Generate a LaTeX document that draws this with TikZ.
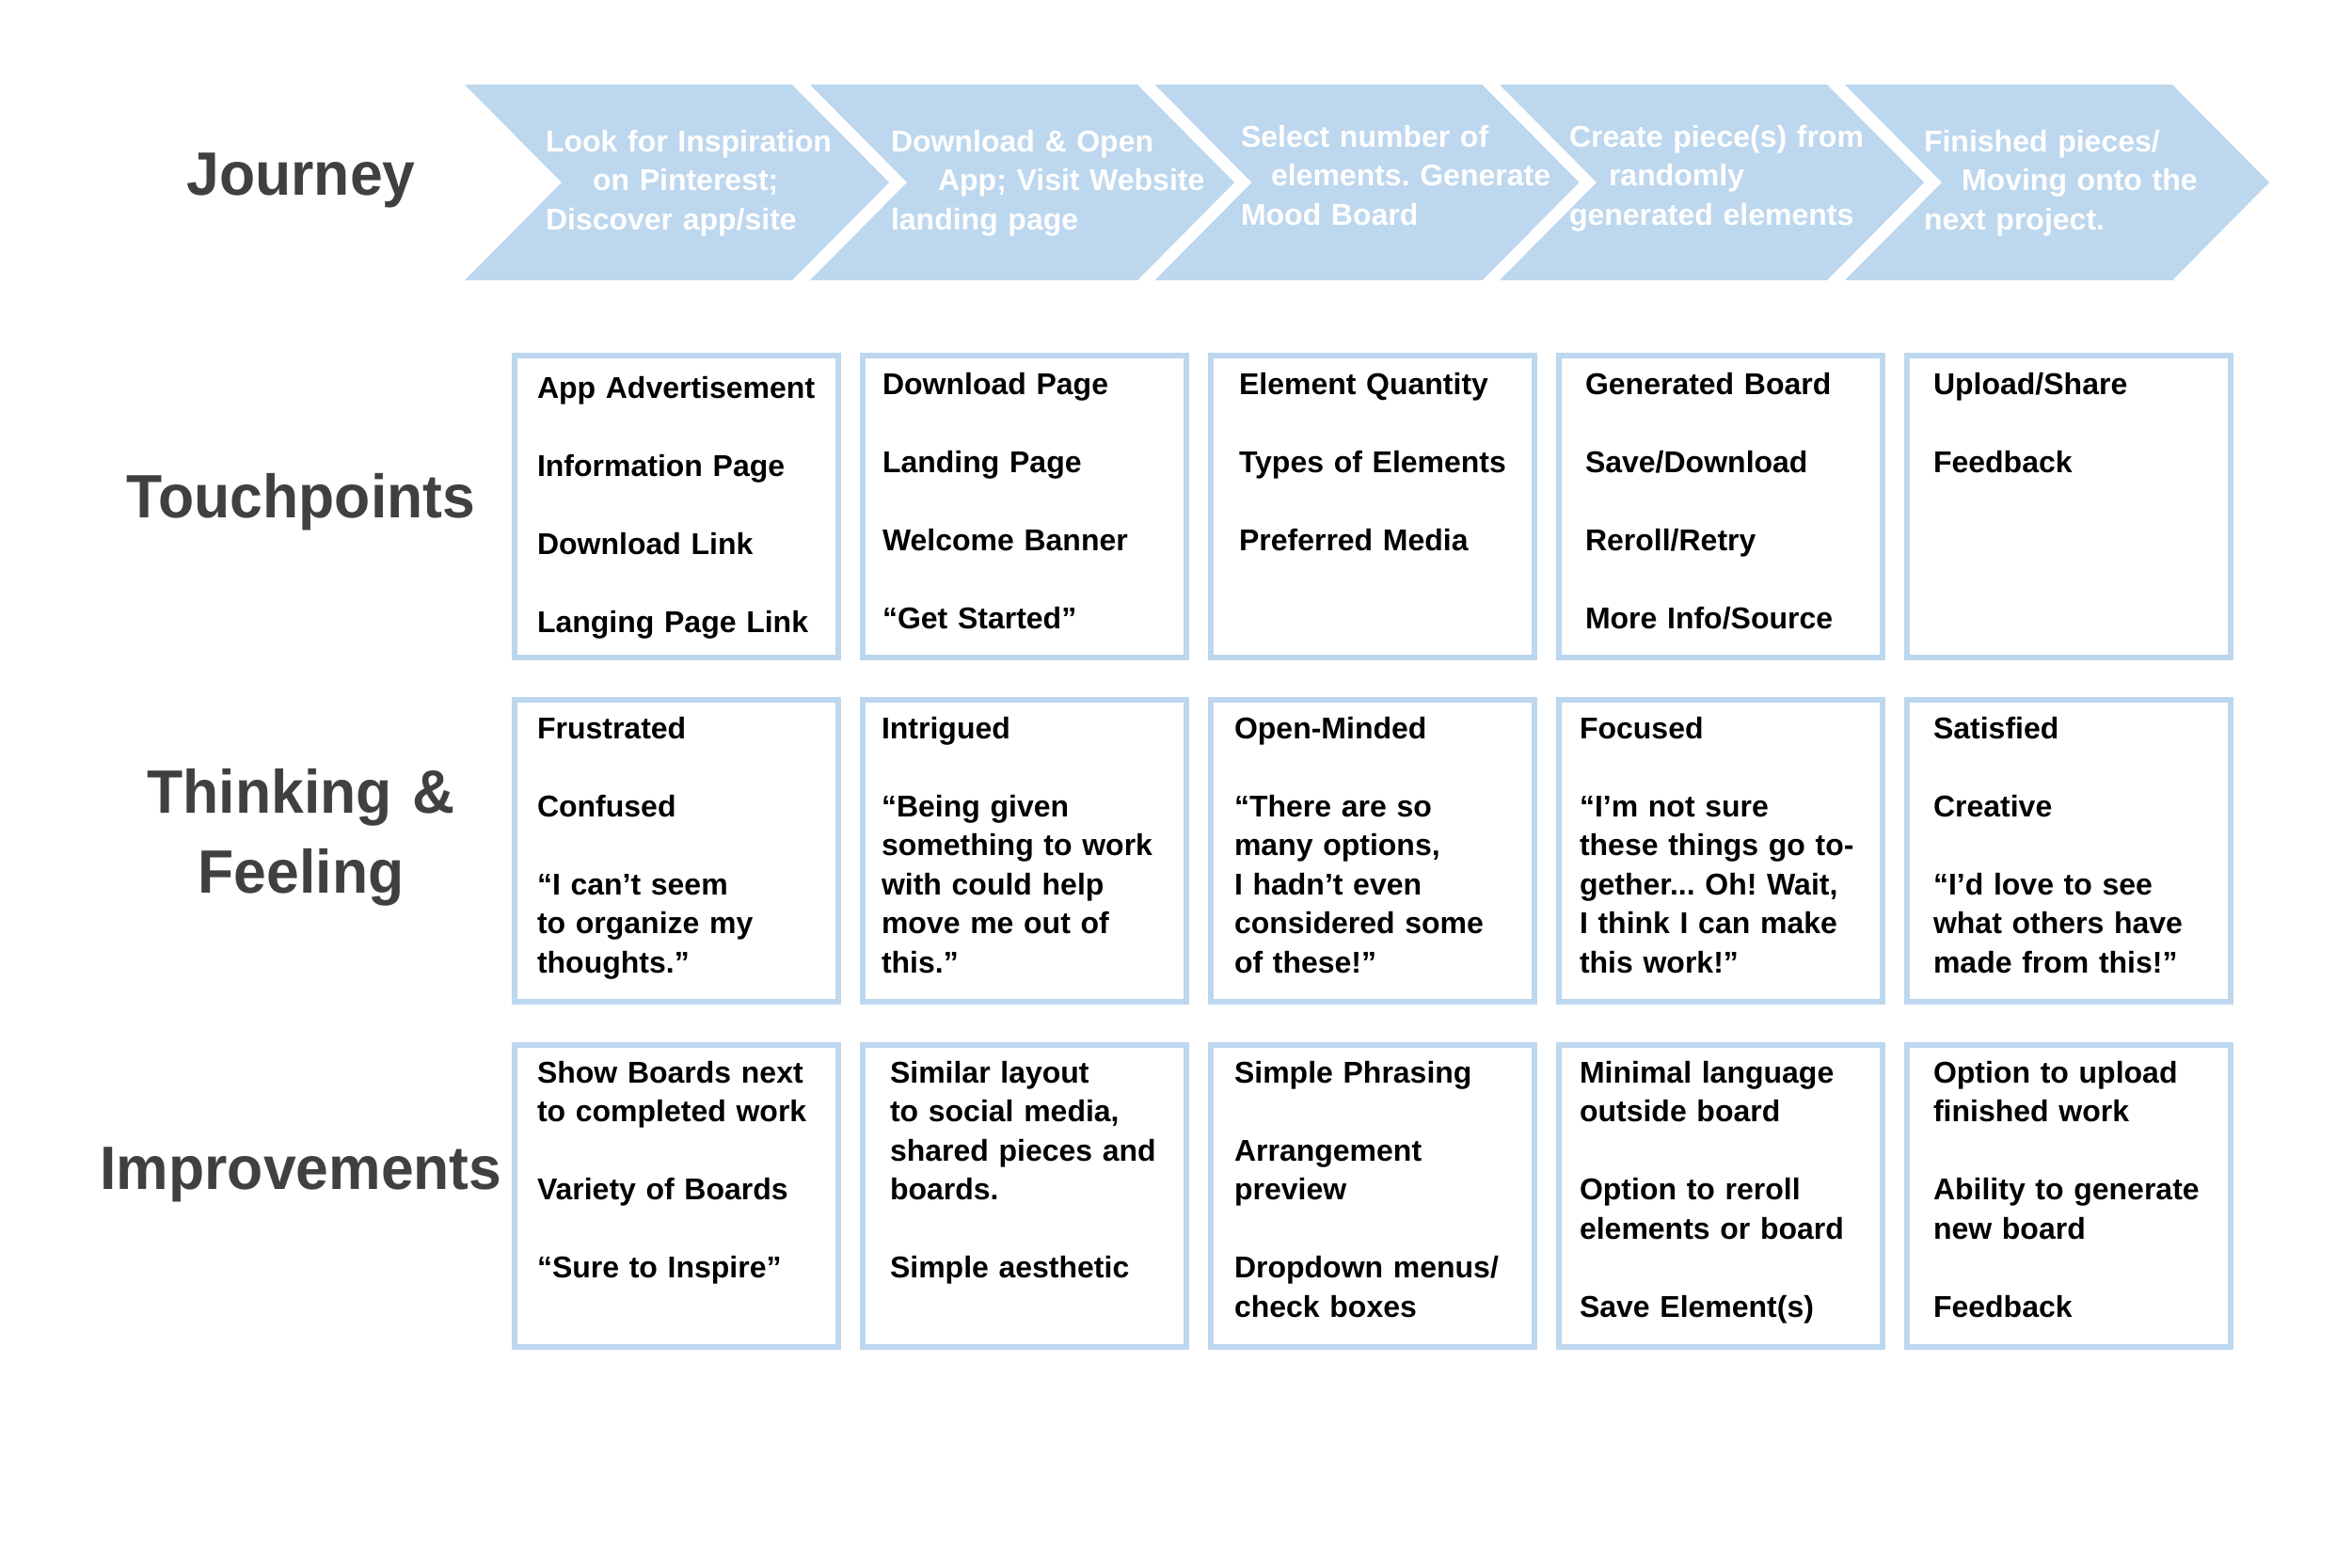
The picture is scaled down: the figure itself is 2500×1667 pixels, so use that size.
\documentclass[tikz,border=0pt]{standalone}
\usepackage{fontspec}
\setmainfont{Liberation Sans}
\newfontfamily\labfont{Liberation Sans}[FakeStretch=0.96]
\definecolor{chevblue}{HTML}{BDD7EE}
\definecolor{labgray}{HTML}{404040}
\newcommand\bst{\rule{0pt}{9pt}}
\newcommand\lst{\rule{0pt}{17pt}}
\newcommand\gap{\\ \mbox{}\\}
\frenchspacing
\begin{document}
\begin{tikzpicture}[x=0.01cm,y=-0.01cm,
  chev/.style={fill=chevblue, draw=none},
  boxframe/.style={draw=chevblue, line width=1.71pt, minimum width=3.44cm, minimum height=3.21cm, inner sep=0pt, outer sep=0pt},
  boxtext/.style={anchor=north west, inner sep=0pt, outer sep=0pt, text width=3.3cm, align=left, font=\frenchspacing\bfseries\fontsize{9.1pt}{11.81pt}\selectfont},
  chevtext/.style={boxtext, text=white, text width=3.8cm},
  lab/.style={anchor=north, inner sep=0pt, outer sep=0pt, text width=5cm, align=center, text=labgray, font=\labfont\bfseries\fontsize{18.5pt}{24.2pt}\selectfont}]
\useasboundingbox (0,0) rectangle (2500,1667);
\fill[white] (0,0) rectangle (2500,1667);

% chevrons
\foreach \x in {494,861,1227.5,1594,1961}{
  \fill[chev] (\x,90) -- ++(348,0) -- ++(103,104) -- ++(-103,104) -- ++(-348,0) -- ++(103,-104) -- cycle;
}
\node[chevtext] (c1) at (580,129.4) {\bst Look for Inspiration\\\hspace*{0.5cm}on Pinterest;\\Discover app/site};
\node[chevtext] (c2) at (947,129.4) {\bst Download \& Open\\\hspace*{0.5cm}App; Visit Website\\landing page};
\node[chevtext] (c3) at (1319,124.4) {\bst Select number of\\\hspace*{0.32cm}elements. Generate\\Mood Board};
\node[chevtext] (c4) at (1668,124.4) {\bst Create piece(s) from\\\hspace*{0.42cm}randomly\\generated elements};
\node[chevtext] (c5) at (2045,129.4) {\bst Finished pieces/\\\hspace*{0.4cm}Moving onto the\\next project.};

% row labels
\node[lab] (lj) at (320,147.25) {\lst Journey};
\node[lab] (lt) at (320,490.25) {\lst Touchpoints};
\node[lab] (lf) at (320,804.25) {\lst Thinking \&\\Feeling};
\node[lab] (li) at (320,1204.25) {\lst Improvements};

% box frames
\foreach \cx [count=\i] in {719,1089,1459,1829,2199}{
  \foreach \cy [count=\j] in {538.5,904.5,1271.5}{
    \node[boxframe] (f\j\i) at (\cx,\cy) {};
  }
}

% touchpoints
\node[boxtext] (t1) at (571,391.4) {\bst App Advertisement\gap Information Page\gap Download Link\gap Langing Page Link};
\node[boxtext] (t2) at (938,387.4) {\bst Download Page\gap Landing Page\gap Welcome Banner\gap “Get Started”};
\node[boxtext] (t3) at (1317,387.4) {\bst Element Quantity\gap Types of Elements\gap Preferred Media};
\node[boxtext] (t4) at (1685,387.4) {\bst Generated Board\gap Save/Download\gap Reroll/Retry\gap More Info/Source};
\node[boxtext] (t5) at (2055,387.4) {\bst Upload/Share\gap Feedback};

% thinking & feeling
\node[boxtext] (h1) at (571,753.4) {\bst Frustrated\gap Confused\gap “I can’t seem\\to organize my\\thoughts.”};
\node[boxtext] (h2) at (937,753.4) {\bst Intrigued\gap “Being given\\something to work\\with could help\\move me out of\\this.”};
\node[boxtext] (h3) at (1312,753.4) {\bst Open-Minded\gap “There are so\\many options,\\I hadn’t even\\considered some\\of these!”};
\node[boxtext] (h4) at (1679,753.4) {\bst Focused\gap “I’m not sure\\these things go to-\\gether... Oh! Wait,\\I think I can make\\this work!”};
\node[boxtext] (h5) at (2055,753.4) {\bst Satisfied\gap Creative\gap “I’d love to see\\what others have\\made from this!”};

% improvements
\node[boxtext] (i1) at (571,1119.4) {\bst Show Boards next\\to completed work\gap Variety of Boards\gap “Sure to Inspire”};
\node[boxtext] (i2) at (946,1119.4) {\bst Similar layout\\to social media,\\shared pieces and\\boards.\gap Simple aesthetic};
\node[boxtext] (i3) at (1312,1119.4) {\bst Simple Phrasing\gap Arrangement\\preview\gap Dropdown menus/\\check boxes};
\node[boxtext] (i4) at (1679,1119.4) {\bst Minimal language\\outside board\gap Option to reroll\\elements or board\gap Save Element(s)};
\node[boxtext] (i5) at (2055,1119.4) {\bst Option to upload\\finished work\gap Ability to generate\\new board\gap Feedback};
\end{tikzpicture}
\end{document}
